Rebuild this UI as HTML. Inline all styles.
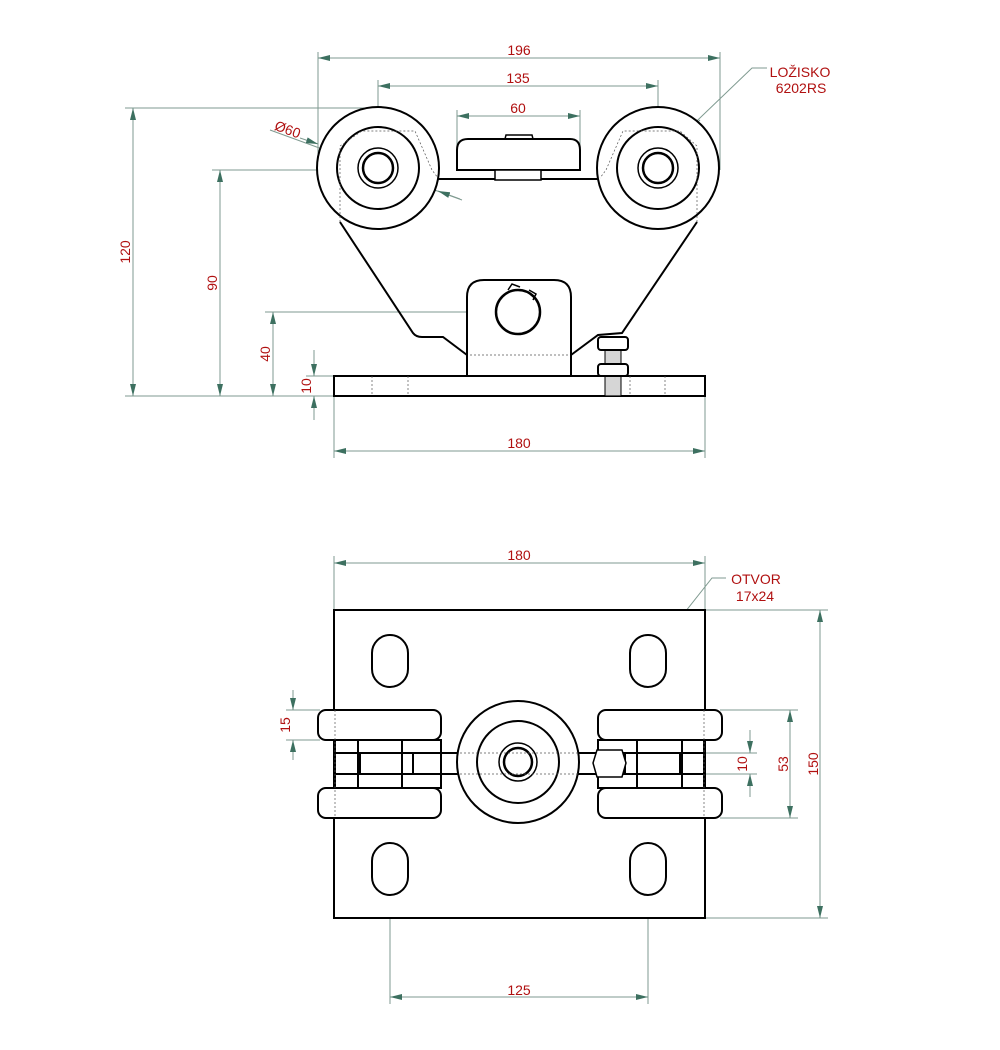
<!DOCTYPE html>
<html><head><meta charset="utf-8"><style>html,body{margin:0;padding:0;background:#fff}svg{display:block}</style></head>
<body>
<svg width="1000" height="1050" viewBox="0 0 1000 1050" xmlns="http://www.w3.org/2000/svg" font-family="Liberation Sans, sans-serif">
<defs>
<marker id="a" viewBox="0 0 12 6" refX="12" refY="3" markerWidth="12" markerHeight="6" orient="auto-start-reverse" markerUnits="userSpaceOnUse"><path d="M0,0 L12,3 L0,6 z" fill="#3d7060"/></marker>
<pattern id="th" width="4" height="2" patternUnits="userSpaceOnUse"><rect width="4" height="2" fill="#fff"/><line x1="0" y1="1" x2="4" y2="1" stroke="#888" stroke-width="0.7"/></pattern>
</defs>
<g stroke="#7f9a90" stroke-width="1" fill="none">
<line x1="318" y1="52" x2="318" y2="170"/><line x1="720" y1="52" x2="720" y2="170"/>
<line x1="378" y1="80" x2="378" y2="168"/><line x1="658" y1="80" x2="658" y2="168"/>
<line x1="457" y1="110" x2="457" y2="150"/><line x1="580" y1="110" x2="580" y2="150"/>
<line x1="125" y1="108" x2="378" y2="108"/>
<line x1="212" y1="170" x2="378" y2="170"/>
<line x1="265" y1="312" x2="518" y2="312"/>
<line x1="125" y1="396" x2="334" y2="396"/>
<line x1="306" y1="376" x2="334" y2="376"/>
<line x1="334" y1="396" x2="334" y2="458"/><line x1="705" y1="396" x2="705" y2="458"/>
<line x1="270" y1="130" x2="462" y2="200"/>
<polyline points="767,68 752,68 678,139"/>
<line x1="334" y1="556" x2="334" y2="610"/><line x1="705" y1="556" x2="705" y2="610"/>
<line x1="390" y1="880" x2="390" y2="1004"/><line x1="648" y1="880" x2="648" y2="1004"/>
<line x1="705" y1="610" x2="828" y2="610"/><line x1="705" y1="918" x2="828" y2="918"/>
<line x1="720" y1="710" x2="798" y2="710"/><line x1="720" y1="818" x2="798" y2="818"/>
<line x1="625" y1="753" x2="757" y2="753"/><line x1="625" y1="774" x2="757" y2="774"/>
<line x1="286" y1="710" x2="320" y2="710"/><line x1="286" y1="740" x2="320" y2="740"/>
<polyline points="726,578 712,578 655,650"/>
</g>
<g stroke="#7f9a90" stroke-width="1" fill="none" marker-start="url(#a)" marker-end="url(#a)">
<line x1="318" y1="58" x2="720" y2="58"/>
<line x1="378" y1="86" x2="658" y2="86"/>
<line x1="457" y1="116" x2="580" y2="116"/>
<line x1="133" y1="108" x2="133" y2="396"/>
<line x1="220" y1="170" x2="220" y2="396"/>
<line x1="273" y1="312" x2="273" y2="396"/>
<line x1="334" y1="451" x2="705" y2="451"/>
<line x1="334" y1="563" x2="705" y2="563"/>
<line x1="390" y1="997" x2="648" y2="997"/>
<line x1="820" y1="610" x2="820" y2="918"/>
<line x1="790" y1="710" x2="790" y2="818"/>
</g>
<g stroke="#7f9a90" stroke-width="1" fill="none" marker-end="url(#a)">
<line x1="314" y1="350" x2="314" y2="376"/><line x1="314" y1="420" x2="314" y2="396"/>
<line x1="750" y1="730" x2="750" y2="753"/><line x1="750" y1="797" x2="750" y2="774"/>
<line x1="293" y1="690" x2="293" y2="710"/><line x1="293" y1="760" x2="293" y2="740"/>
<line x1="300" y1="138" x2="318" y2="144"/>
<line x1="460" y1="199" x2="438" y2="191"/>
<line x1="700" y1="120" x2="680" y2="139"/>
<line x1="670" y1="640" x2="655" y2="651"/>
</g>
<g fill="#b01010" font-size="14" text-anchor="middle">
<text x="519" y="55">196</text>
<text x="518" y="83">135</text>
<text x="518" y="113">60</text>
<text x="519" y="448">180</text>
<text x="519" y="560">180</text>
<text x="519" y="995">125</text>
<text x="800" y="77">LOŽISKO</text>
<text x="801" y="93">6202RS</text>
<text x="756" y="584">OTVOR</text>
<text x="755" y="601">17x24</text>
<text transform="translate(286,134) rotate(20)">Ø60</text>
<text transform="translate(130,252) rotate(-90)">120</text>
<text transform="translate(217,283) rotate(-90)">90</text>
<text transform="translate(270,354) rotate(-90)">40</text>
<text transform="translate(311,386) rotate(-90)">10</text>
<text transform="translate(290,725) rotate(-90)">15</text>
<text transform="translate(747,764) rotate(-90)">10</text>
<text transform="translate(788,764) rotate(-90)">53</text>
<text transform="translate(818,764) rotate(-90)">150</text>
</g>
<g stroke="#000" stroke-width="2" fill="#fff">
<path d="M340,222 L413,333 Q416,337 422,337 L443,337 L467,355 M697,222 L622,333 L598,335 L571,355" fill="none"/>
<line x1="438" y1="179" x2="598" y2="179"/>
<circle cx="378" cy="168" r="61"/><circle cx="378" cy="168" r="41"/>
<circle cx="378" cy="168" r="20" stroke-width="1.5"/><circle cx="378" cy="168" r="15" stroke-width="2.5"/>
<circle cx="658" cy="168" r="61"/><circle cx="658" cy="168" r="41"/>
<circle cx="658" cy="168" r="20" stroke-width="1.5"/><circle cx="658" cy="168" r="15" stroke-width="2.5"/>
<path d="M505,139 L506,135 L532,135 L533,139" stroke-width="1.5"/>
<path d="M457,170 L457,150 Q457,139 468,139 L570,139 Q580,139 580,150 L580,170 Z"/>
<rect x="495" y="170" width="46" height="10" stroke-width="1.5"/>
<path d="M467,377 L467,297 Q467,280 484,280 L554,280 Q571,280 571,297 L571,377"/>
<circle cx="518" cy="312" r="22" stroke-width="2.5"/>
<path d="M508,290 L512,284 L520,287 M529,290 L536,294 L533,300" fill="none" stroke-width="1.5"/>
<rect x="334" y="376" width="371" height="20"/>
<rect x="605" y="350" width="16" height="46" stroke-width="1" fill="url(#th)"/>
<rect x="598" y="337" width="30" height="13" rx="3"/>
<rect x="598" y="364" width="30" height="12" rx="3"/>
</g>
<g stroke="#555" stroke-width="0.7" stroke-dasharray="2,2" fill="none">
<path d="M340,222 L340,146 L362,131 L415,131 L432,170 L438,178"/>
<path d="M697,222 L697,146 L680,131 L623,131 L606,170 L600,178"/>
<line x1="470" y1="355" x2="570" y2="355"/>
<line x1="372" y1="376" x2="372" y2="396"/><line x1="408" y1="376" x2="408" y2="396"/>
<line x1="630" y1="376" x2="630" y2="396"/><line x1="665" y1="376" x2="665" y2="396"/>
</g>
<g stroke="#000" stroke-width="2" fill="#fff">
<rect x="334" y="610" width="371" height="308"/>
<rect x="372" y="635" width="36" height="52" rx="18"/>
<rect x="630" y="635" width="36" height="52" rx="18"/>
<rect x="372" y="843" width="36" height="52" rx="18"/>
<rect x="630" y="843" width="36" height="52" rx="18"/>
<rect x="335" y="740" width="106" height="48"/>
<line x1="335" y1="753" x2="460" y2="753"/><line x1="335" y1="774" x2="460" y2="774"/>
<line x1="358" y1="740" x2="358" y2="788"/><line x1="402" y1="740" x2="402" y2="788"/>
<line x1="360" y1="753" x2="360" y2="774"/><line x1="413" y1="753" x2="413" y2="774"/>
<rect x="318" y="710" width="123" height="30" rx="8"/>
<rect x="318" y="788" width="123" height="30" rx="8"/>
<rect x="598" y="740" width="106" height="48"/>
<line x1="578" y1="753" x2="704" y2="753"/><line x1="578" y1="774" x2="704" y2="774"/>
<line x1="637" y1="740" x2="637" y2="788"/><line x1="682" y1="740" x2="682" y2="788"/>
<line x1="625" y1="753" x2="625" y2="774"/><line x1="680" y1="753" x2="680" y2="774"/>
<rect x="598" y="710" width="124" height="30" rx="8"/>
<rect x="598" y="788" width="124" height="30" rx="8"/>
<path d="M597,750 L622,750 L626,763 L622,777 L597,777 L593,763 Z" stroke-width="1.5"/>
<circle cx="518" cy="762" r="61"/><circle cx="518" cy="762" r="41"/>
<circle cx="518" cy="762" r="19" stroke-width="1.5"/><circle cx="518" cy="762" r="14" stroke-width="2.5"/>
</g>
<g stroke="#555" stroke-width="0.7" stroke-dasharray="2,2" fill="none">
<line x1="335" y1="710" x2="335" y2="818"/><line x1="704" y1="710" x2="704" y2="818"/>
<line x1="460" y1="753" x2="578" y2="753"/><line x1="460" y1="774" x2="578" y2="774"/>
</g>
</svg>
</body></html>
